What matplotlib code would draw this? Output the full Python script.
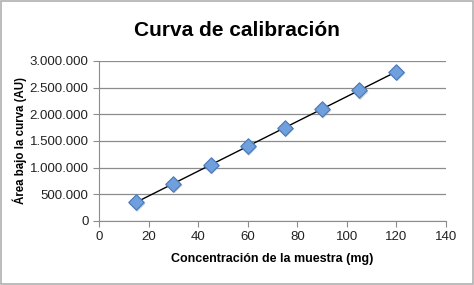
import matplotlib
matplotlib.use("Agg")
import matplotlib.pyplot as plt
from matplotlib.ticker import FuncFormatter

plt.rcParams['font.family'] = ['Liberation Sans', 'DejaVu Sans']

# datos de la curva de calibración
concentracion = [15, 30, 45, 60, 75, 90, 105, 120]
area = [350000, 700000, 1050000, 1400000, 1750000, 2100000, 2450000, 2800000]
x_ticks = [0, 20, 40, 60, 80, 100, 120, 140]
y_ticks = [0, 500000, 1000000, 1500000, 2000000, 2500000, 3000000]


def miles(v, pos):
    return f"{int(v):,}".replace(",", ".")


fig = plt.figure(figsize=(4.74, 2.85), dpi=100)
ax = fig.add_axes([0.209, 0.225, 0.732, 0.561])

# línea de tendencia (ajuste lineal)
n = len(concentracion)
mx = sum(concentracion) / n
my = sum(area) / n
b = sum((x - mx) * (y - my) for x, y in zip(concentracion, area)) / sum((x - mx) ** 2 for x in concentracion)
a = my - b * mx
xs = [concentracion[0], concentracion[-1]]
ax.plot(xs, [a + b * x for x in xs], color='black', linewidth=1.0, zorder=3)

# sombra y marcadores
ax.scatter(concentracion, area, marker='D', s=70, color='#9aa3ad', alpha=0.5,
           edgecolors='none', zorder=2,
           transform=ax.transData + matplotlib.transforms.ScaledTranslation(1/100, -1.5/100, fig.dpi_scale_trans))
ax.scatter(concentracion, area, marker='D', s=62, color='#6f9fdc',
           edgecolors='#4a78b8', linewidths=0.8, zorder=4)

ax.set_xlim(0, 140)
ax.set_ylim(0, 3000000)
ax.set_xticks(x_ticks)
ax.set_yticks(y_ticks)
ax.yaxis.set_major_formatter(FuncFormatter(miles))
ax.grid(axis='y', color='#8c8c8c', linewidth=0.9)
ax.set_axisbelow(True)

for s in ['top', 'right']:
    ax.spines[s].set_visible(False)
for s in ['left', 'bottom']:
    ax.spines[s].set_color('#8c8c8c')
ax.tick_params(axis='both', colors='#8c8c8c', labelcolor='#222222', labelsize=9.5, length=4)

fig.text(0.5, 0.875, 'Curva de calibración', fontsize=15, fontweight='bold',
         ha='center', va='baseline')
ax.set_xlabel('Concentración de la muestra (mg)', fontsize=9, fontweight='bold', labelpad=7)
ax.set_ylabel('Área bajo la curva (AU)', fontsize=8.3, fontweight='bold', labelpad=2)

# borde de la figura
fig.patches.append(plt.Rectangle((0.002, 0.003), 0.996, 0.994, transform=fig.transFigure,
                                 fill=False, edgecolor='#b0b0b0', linewidth=1.2))

fig.savefig('out.png', dpi=100)
